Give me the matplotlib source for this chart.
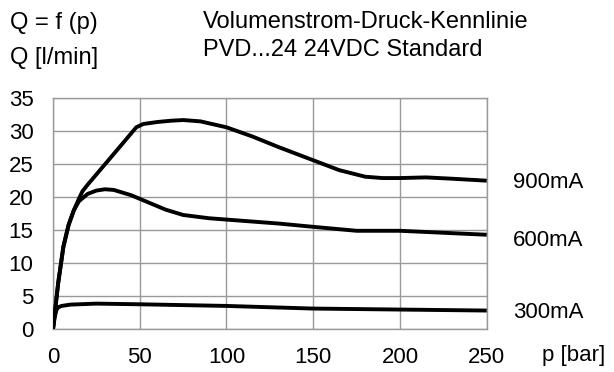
#! /usr/bin/env python3
# -*- coding: utf-8 -*-

import matplotlib
matplotlib.use("Agg")
import matplotlib.pyplot as plt

## Data

p_900 = [0, 3, 6, 9, 12, 15, 17, 20, 30, 40, 48, 52, 60, 68, 75, 85, 100, 115, 130, 150, 165, 180, 190, 200, 215, 230, 250]
q_900 = [0, 7, 12.5, 15.8, 18.0, 19.8, 20.9, 21.9, 25.0, 28.1, 30.6, 31.1, 31.4, 31.6, 31.7, 31.5, 30.6, 29.2, 27.6, 25.6, 24.1, 23.1, 22.9, 22.9, 23.0, 22.8, 22.5]

p_600 = [0, 3, 6, 9, 12, 15, 20, 25, 30, 35, 45, 55, 65, 75, 90, 110, 130, 150, 175, 200, 225, 250]
q_600 = [0, 7, 12.5, 15.8, 18.0, 19.4, 20.5, 21.0, 21.2, 21.1, 20.3, 19.2, 18.1, 17.3, 16.8, 16.4, 16.0, 15.5, 14.9, 14.9, 14.6, 14.3]

p_300 = [0, 1, 2, 3, 5, 10, 25, 50, 100, 150, 200, 250]
q_300 = [0, 1.8, 2.9, 3.3, 3.5, 3.7, 3.85, 3.75, 3.5, 3.1, 2.95, 2.8]

labels = ["900mA", "600mA", "300mA"]
label_ypix = [182, 241, 313]

x_ticks = [0, 50, 100, 150, 200, 250]
y_ticks = [0, 5, 10, 15, 20, 25, 30, 35]

FS = 16
FS_HEAD = 17


def main():
    plt.rcParams['font.family'] = ['Liberation Sans', 'DejaVu Sans']

    W, H = 614, 372
    fig = plt.figure(figsize=(W / 100, H / 100), dpi=100)
    ax = fig.add_axes([53 / W, 1 - 329 / H, 433.7 / W, 230.7 / H])

    for p, q in [(p_900, q_900), (p_600, q_600), (p_300, q_300)]:
        ax.plot(p, q, color="black", lw=2.8, solid_capstyle="butt", zorder=3)

    ax.set_xlim(0, 250)
    ax.set_ylim(0, 35)
    ax.set_xticks(x_ticks)
    ax.set_yticks(y_ticks)
    ax.tick_params(length=0, labelsize=FS)
    ax.tick_params(axis="y", pad=14)
    ax.tick_params(axis="x", pad=13)
    ax.grid(True, color="#999999", lw=1.0)
    for s in ax.spines.values():
        s.set_color("#999999")
        s.set_linewidth(1.0)

    # curve labels
    for lab, y in zip(labels, label_ypix):
        fig.text(513 / W, 1 - y / H, lab, fontsize=FS, va="center", ha="left")

    fig.text(542 / W, 1 - 356 / H, "p [bar]", fontsize=FS, va="center", ha="left")

    # header
    fig.text(10 / W, 1 - 23 / H, "Q = f (p)", fontsize=FS_HEAD, va="center", ha="left")
    fig.text(10 / W, 1 - 58 / H, "Q [l/min]", fontsize=FS_HEAD, va="center", ha="left")
    fig.text(203 / W, 1 - 22 / H, "Volumenstrom-Druck-Kennlinie", fontsize=FS_HEAD, va="center", ha="left")
    fig.text(203 / W, 1 - 50 / H, "PVD...24 24VDC Standard", fontsize=FS_HEAD, va="center", ha="left")

    fig.savefig("out.png", dpi=100)


if __name__ == "__main__":
    main()
